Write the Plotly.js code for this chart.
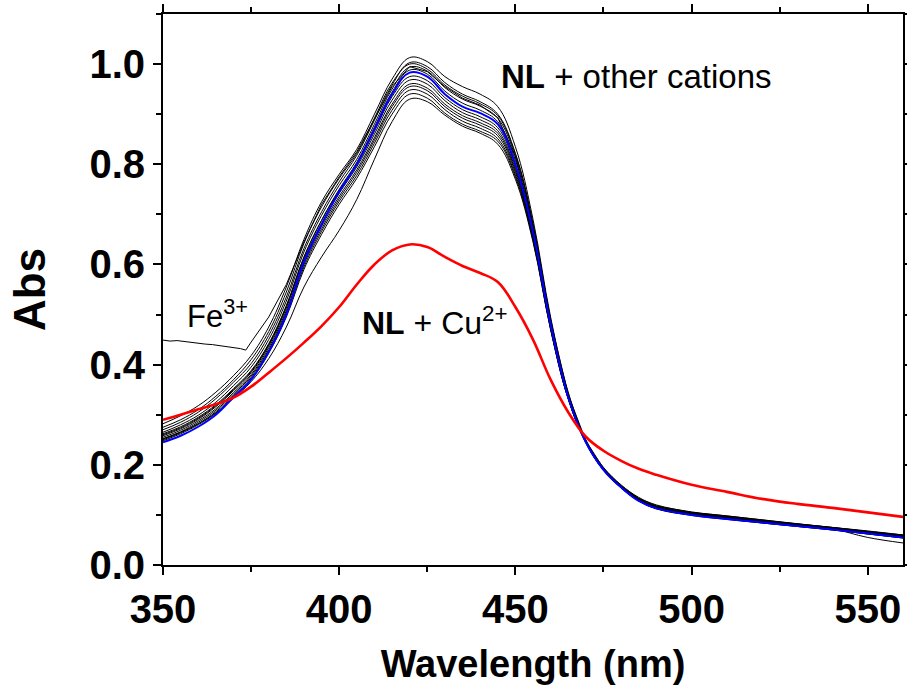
<!DOCTYPE html>
<html>
<head>
<meta charset="utf-8">
<script src="https://cdn.plot.ly/plotly-3.0.1.min.js"></script>
<style>html,body{margin:0;padding:0;background:#fff;}#chart{width:907px;height:699px;}</style>
</head>
<body>
<div id="chart"></div>
<script>
// Wavelength grid (nm)
const wavelength = [350,355,360,365,370,375,380,385,390,395,400,405,410,415,420,425,430,435,440,445,450,455,460,465,470,475,480,485,490,500,510,520,530,540,550,560];

// NL + other cations (black spectra)
const other1  = [.282,.298,.318,.345,.378,.418,.475,.555,.650,.725,.780,.830,.900,.970,1.013,1.005,.975,.955,.940,.915,.835,.690,.495,.345,.250,.195,.160,.135,.120,.106,.098,.090,.082,.075,.068,.060];
const other2  = [.270,.285,.305,.332,.365,.402,.458,.535,.632,.705,.765,.818,.888,.958,1.003,.995,.963,.940,.925,.900,.822,.682,.490,.342,.248,.193,.158,.132,.117,.104,.096,.088,.081,.074,.066,.058];
const other3  = [.265,.280,.299,.325,.358,.395,.450,.527,.625,.698,.758,.810,.880,.950,.994,.986,.953,.930,.916,.892,.815,.676,.486,.339,.247,.192,.157,.131,.116,.103,.095,.087,.080,.073,.065,.057];
const other4  = [.262,.276,.295,.320,.352,.388,.442,.518,.615,.688,.748,.800,.866,.935,.975,.967,.933,.909,.895,.873,.797,.664,.480,.336,.246,.191,.156,.130,.115,.102,.094,.086,.079,.072,.064,.056];
const other5  = [.258,.272,.291,.316,.348,.384,.438,.513,.610,.682,.742,.795,.860,.928,.968,.960,.927,.903,.889,.867,.792,.660,.478,.335,.246,.191,.156,.130,.114,.101,.093,.086,.079,.072,.064,.056];
const other6  = [.255,.269,.288,.312,.344,.380,.434,.508,.604,.676,.736,.789,.853,.920,.960,.952,.920,.897,.883,.862,.788,.657,.476,.334,.245,.190,.155,.129,.114,.101,.093,.085,.078,.071,.063,.055];
const other7  = [.252,.266,.285,.309,.341,.377,.430,.504,.600,.671,.731,.784,.848,.915,.955,.947,.915,.892,.878,.857,.784,.654,.474,.333,.245,.190,.155,.129,.113,.100,.092,.085,.078,.071,.063,.055];
const other8  = [.250,.264,.282,.306,.338,.374,.427,.500,.595,.666,.726,.778,.842,.908,.948,.940,.909,.886,.872,.851,.779,.651,.472,.332,.244,.189,.154,.128,.113,.100,.092,.084,.077,.070,.062,.054];
const other9  = [.248,.262,.280,.303,.335,.370,.423,.495,.590,.660,.720,.772,.835,.900,.940,.932,.902,.880,.866,.846,.775,.648,.470,.331,.244,.189,.154,.128,.112,.099,.091,.084,.077,.070,.062,.054];
const other10 = [.252,.265,.282,.304,.333,.366,.412,.475,.555,.615,.668,.730,.810,.885,.930,.925,.898,.876,.862,.840,.770,.645,.470,.332,.246,.192,.157,.131,.115,.101,.093,.086,.079,.072,.055,.044];
const other11 = [.275,.290,.310,.337,.370,.410,.466,.545,.642,.715,.772,.822,.892,.962,1.000,.990,.958,.936,.921,.897,.820,.680,.489,.341,.248,.193,.158,.133,.118,.105,.097,.089,.082,.075,.067,.059];
const other12 = [.260,.274,.293,.318,.350,.386,.440,.516,.614,.688,.750,.804,.874,.944,.988,.980,.946,.922,.908,.885,.808,.670,.483,.337,.246,.191,.156,.130,.115,.102,.094,.086,.079,.072,.064,.056];
const otherCations = [other1,other2,other3,other4,other5,other6,other7,other8,other9,other10,other11,other12];

// NL alone (blue)
const blueNL = [.245,.258,.276,.300,.335,.370,.425,.500,.605,.680,.745,.800,.870,.940,.983,.975,.940,.915,.902,.880,.800,.665,.480,.335,.245,.190,.155,.128,.113,.100,.092,.085,.078,.071,.063,.055];

// NL + Cu2+ (red)
const cuNL = [.290,.300,.311,.321,.334,.356,.384,.413,.444,.477,.515,.560,.600,.628,.640,.635,.615,.597,.583,.565,.515,.450,.370,.305,.256,.228,.208,.192,.180,.160,.146,.132,.122,.114,.105,.096];

// NL + Fe3+ (black, raised baseline)
const fe3Wavelength = [350,352,354,356,358,360,362,364,366,368,370,372,373.5,375,380,385,390,395,400,405,410,415,420,425,430,435,440,445,450,455,460,465,470,475,480,485,490,500,510,520,530,540,550,560];
const fe3Abs = [.449,.447,.448,.446,.444,.443,.441,.440,.438,.436,.434,.432,.429,.445,.495,.560,.645,.720,.775,.825,.890,.955,.995,.985,.955,.932,.918,.893,.815,.676,.487,.340,.248,.193,.158,.133,.118,.105,.098,.090,.082,.075,.067,.060];

// Tick labels
const xTickVals = [350,400,450,500,550];
const yTickVals = [0,0.2,0.4,0.6,0.8,1.0];
const yTickText = ['0.0','0.2','0.4','0.6','0.8','1.0'];

const FONT = 'Liberation Sans, Arial, Helvetica, sans-serif';

const traces = [];
otherCations.forEach(function(ys){
  traces.push({x: wavelength, y: ys, mode:'lines', line:{color:'#000', width:1, shape:'spline', smoothing:1.1}, hoverinfo:'skip'});
});
traces.push({x: fe3Wavelength, y: fe3Abs, mode:'lines', line:{color:'#000', width:1, shape:'linear'}, hoverinfo:'skip'});
traces.push({x: wavelength, y: blueNL, mode:'lines', line:{color:'#0000ff', width:2, shape:'spline', smoothing:1.1}, hoverinfo:'skip'});
traces.push({x: wavelength, y: cuNL, mode:'lines', line:{color:'#ff0000', width:2.6, shape:'spline', smoothing:1.1}, hoverinfo:'skip'});

const axisCommon = {
  showline:true, linecolor:'#000', linewidth:2, mirror:'ticks',
  ticks:'outside', ticklen:8, tickwidth:2, tickcolor:'#000',
  showgrid:false, zeroline:false,
  tickfont:{family:FONT, size:40, color:'#000', weight:'bold'}
};

const layout = {
  width:907, height:699,
  margin:{l:163, r:4, t:14, b:134},
  paper_bgcolor:'#fff', plot_bgcolor:'#fff',
  showlegend:false,
  xaxis: Object.assign({}, axisCommon, {
    range:[350,560], tickvals:xTickVals, ticktext:xTickVals.map(String),
    minor:{dtick:25, tick0:350, ticks:'outside', ticklen:5, tickwidth:2, tickcolor:'#000'},
    title:{text:'Wavelength (nm)', font:{family:FONT, size:38, color:'#000', weight:'bold'}, standoff:20}
  }),
  yaxis: Object.assign({}, axisCommon, {
    range:[0,1.1], tickvals:yTickVals, ticktext:yTickText,
    minor:{dtick:0.1, tick0:0, ticks:'outside', ticklen:5, tickwidth:2, tickcolor:'#000'},
    title:{text:'Abs', font:{family:FONT, size:44, color:'#000', weight:'bold'}, standoff:30}
  }),
  annotations:[
    {xref:'x', yref:'y', x:445.4, y:0.975, xanchor:'left', yanchor:'middle', showarrow:false,
     text:'<b>NL</b> + other cations', font:{family:FONT, size:33, color:'#000'}},
    {xref:'x', yref:'y', x:406.0, y:0.488, xanchor:'left', yanchor:'middle', showarrow:false,
     text:'<b>NL</b> + Cu<sup>2+</sup>', font:{family:FONT, size:32, color:'#000'}},
    {xref:'x', yref:'y', x:356.2, y:0.502, xanchor:'left', yanchor:'middle', showarrow:false,
     text:'Fe<sup>3+</sup>', font:{family:FONT, size:31, color:'#000'}}
  ]
};

Plotly.newPlot('chart', traces, layout, {displayModeBar:false, staticPlot:true});
</script>
</body>
</html>
